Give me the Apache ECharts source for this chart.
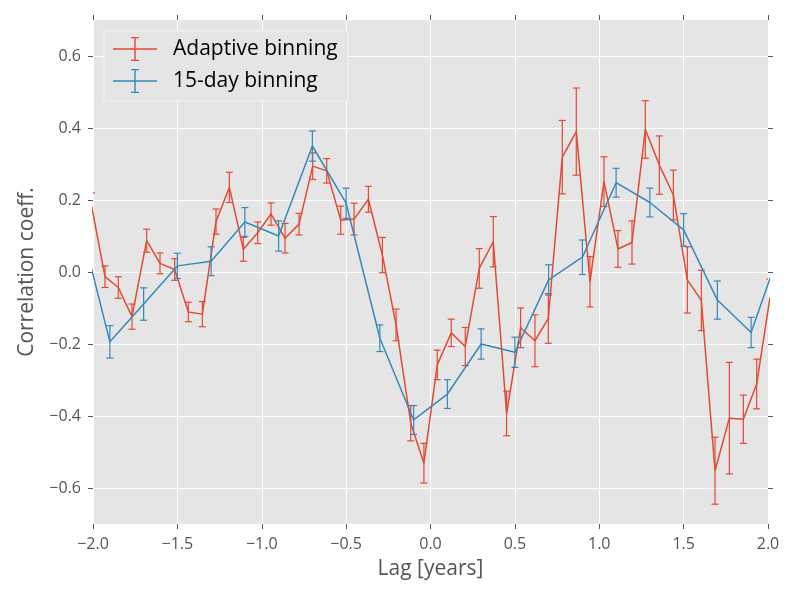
<!DOCTYPE html>
<html>
<head>
<meta charset="utf-8">
<script src="https://cdn.jsdelivr.net/npm/echarts@6/dist/echarts.min.js"></script>
<style>html,body{margin:0;padding:0;background:#fff}#c{width:800px;height:600px}</style>
</head>
<body>
<div id="c"></div>
<script>
// Adaptive binning (red)
var adaptiveX = [-2.009, -1.929, -1.85, -1.769, -1.682, -1.603, -1.516, -1.435, -1.352, -1.271,
  -1.192, -1.109, -1.024, -0.945, -0.862, -0.779, -0.698, -0.615, -0.532, -0.453,
  -0.368, -0.285, -0.204, -0.117, -0.039, 0.040, 0.123, 0.206, 0.289, 0.372,
  0.451, 0.534, 0.619, 0.698, 0.781, 0.864, 0.945, 1.028, 1.111, 1.194,
  1.273, 1.356, 1.439, 1.522, 1.605, 1.686, 1.771, 1.854, 1.933, 2.012];
var adaptiveY = [0.185, -0.013, -0.043, -0.124, 0.087, 0.024, 0.007, -0.111, -0.117, 0.140,
  0.235, 0.063, 0.109, 0.161, 0.094, 0.133, 0.294, 0.281, 0.144, 0.147,
  0.202, 0.047, -0.147, -0.420, -0.531, -0.258, -0.169, -0.207, 0.010, 0.084,
  -0.393, -0.155, -0.191, -0.129, 0.319, 0.390, -0.027, 0.251, 0.064, 0.082,
  0.396, 0.297, 0.214, -0.022, -0.079, -0.552, -0.406, -0.409, -0.311, -0.07];
var adaptiveErr = [0.035, 0.03, 0.03, 0.035, 0.032, 0.029, 0.03, 0.027, 0.035, 0.035,
  0.042, 0.033, 0.03, 0.031, 0.041, 0.03, 0.037, 0.034, 0.039, 0.044,
  0.036, 0.049, 0.044, 0.049, 0.055, 0.041, 0.038, 0.053, 0.055, 0.07,
  0.062, 0.055, 0.072, 0.069, 0.102, 0.121, 0.07, 0.069, 0.051, 0.06,
  0.08, 0.081, 0.069, 0.092, 0.084, 0.093, 0.155, 0.067, 0.069, 0.05];

// 15-day binning (blue)
var binX = [-2.1, -1.9, -1.7, -1.5, -1.3, -1.1, -0.9, -0.7, -0.5, -0.3, -0.1,
  0.1, 0.3, 0.5, 0.7, 0.9, 1.1, 1.3, 1.5, 1.7, 1.9, 2.1];
var binY = [0.18, -0.194, -0.089, 0.017, 0.030, 0.139, 0.100, 0.350, 0.191, -0.184, -0.411,
  -0.339, -0.200, -0.223, -0.022, 0.041, 0.248, 0.193, 0.117, -0.078, -0.168, 0.10];
var binErr = [0.04, 0.045, 0.045, 0.035, 0.04, 0.04, 0.042, 0.042, 0.042, 0.037, 0.04,
  0.04, 0.042, 0.042, 0.042, 0.048, 0.04, 0.04, 0.045, 0.053, 0.042, 0.04];

var xTicks = [-2.0, -1.5, -1.0, -0.5, 0.0, 0.5, 1.0, 1.5, 2.0];
var yTicks = [-0.6, -0.4, -0.2, 0.0, 0.2, 0.4, 0.6];
var seriesNames = ['Adaptive binning', '15-day binning'];

var RED = '#E24A33', BLUE = '#348ABD';
var FONT = 'Open Sans';

function pts(xs, ys) { return xs.map(function (x, i) { return [x, ys[i]]; }); }
function errPts(xs, ys, es) { return xs.map(function (x, i) { return [x, ys[i], es[i]]; }); }
function fmt(v) {
  var r = Math.round(v * 10);
  if (Math.abs(r) % 2 !== 0 && Math.abs(r) % 5 !== 0) return '';
  var s = Math.abs(v).toFixed(1);
  return (v < -1e-9 ? '\u2212' : '') + s;
}
function errRender(color) {
  return function (params, api) {
    var x = api.value(0), y = api.value(1), e = api.value(2);
    var t = api.coord([x, y + e]), b = api.coord([x, y - e]);
    var cw = 3.5;
    var st = { stroke: color, lineWidth: 1.2, fill: null };
    return {
      type: 'group', children: [
        { type: 'line', shape: { x1: t[0], y1: t[1], x2: b[0], y2: b[1] }, style: st },
        { type: 'line', shape: { x1: t[0] - cw, y1: t[1], x2: t[0] + cw, y2: t[1] }, style: st },
        { type: 'line', shape: { x1: b[0] - cw, y1: b[1], x2: b[0] + cw, y2: b[1] }, style: st }
      ]
    };
  };
}

var icon = 'path://M0,11.3L44,11.3L44,12.7L0,12.7Z M21.3,0L22.7,0L22.7,24L21.3,24Z M18,0L26,0L26,1.2L18,1.2Z M18,22.8L26,22.8L26,24L18,24Z';

var tickStyle = { color: '#555555', width: 1 };

var chart = echarts.init(document.getElementById('c'), null, { renderer: 'canvas' });
chart.setOption({
  animation: false,
  backgroundColor: '#ffffff',
  grid: { left: 93, right: 32, top: 20, bottom: 76, show: true, backgroundColor: '#E5E5E5', borderWidth: 0 },
  legend: {
    orient: 'vertical', left: 104, top: 31,
    padding: [6, 10, 8, 9],
    itemWidth: 44, itemHeight: 24, itemGap: 8,
    backgroundColor: '#E5E5E5', borderColor: '#f4f4f4', borderWidth: 1,
    textStyle: { fontFamily: FONT, fontSize: 21, color: '#000000', padding: [0, 0, 0, 11] },
    data: [
      { name: seriesNames[0], icon: icon, itemStyle: { color: RED } },
      { name: seriesNames[1], icon: icon, itemStyle: { color: BLUE } }
    ]
  },
  xAxis: [{
    type: 'value', min: -2, max: 2, interval: 0.5,
    name: 'Lag [years]', nameLocation: 'middle', nameGap: 35,
    nameTextStyle: { fontFamily: FONT, fontSize: 21, color: '#555555' },
    axisLine: { show: false, onZero: false },
    axisTick: { show: true, inside: false, length: 5, lineStyle: tickStyle },
    axisLabel: { fontFamily: FONT, fontSize: 16, color: '#555555', margin: 12, formatter: fmt },
    splitLine: { show: true, lineStyle: { color: '#ffffff', width: 1 } }
  }, {
    type: 'value', min: -2, max: 2, interval: 0.5, position: 'top',
    axisLine: { show: false, onZero: false },
    axisTick: { show: true, inside: false, length: 5, lineStyle: tickStyle },
    axisLabel: { show: false },
    splitLine: { show: false }
  }],
  yAxis: [{
    type: 'value', min: -0.7, max: 0.7, interval: 0.1,
    name: 'Correlation coeff.', nameLocation: 'middle', nameGap: 55,
    nameTextStyle: { fontFamily: FONT, fontSize: 21, color: '#555555' },
    axisLine: { show: false, onZero: false },
    axisTick: { show: true, inside: false, length: 5, lineStyle: tickStyle, customValues: yTicks },
    axisLabel: { fontFamily: FONT, fontSize: 16, color: '#555555', margin: 12, customValues: yTicks, formatter: fmt },
    splitLine: { show: true, lineStyle: { color: '#ffffff', width: 1 } }
  }, {
    type: 'value', min: -0.7, max: 0.7, interval: 0.1, position: 'right',
    axisLine: { show: false, onZero: false },
    axisTick: { show: true, inside: false, length: 5, lineStyle: tickStyle, customValues: yTicks },
    axisLabel: { show: false, customValues: yTicks },
    splitLine: { show: false }
  }],
  series: [
    {
      name: seriesNames[0], type: 'custom', xAxisIndex: 0, yAxisIndex: 0, clip: true,
      itemStyle: { color: RED }, encode: { x: 0, y: 1 },
      renderItem: errRender(RED), data: errPts(adaptiveX, adaptiveY, adaptiveErr), z: 2
    },
    {
      name: seriesNames[0], type: 'line', xAxisIndex: 0, yAxisIndex: 0,
      data: pts(adaptiveX, adaptiveY), showSymbol: false, symbol: 'none', clip: true,
      lineStyle: { color: RED, width: 1.5 }, itemStyle: { color: RED }, z: 3
    },
    {
      name: seriesNames[1], type: 'custom', xAxisIndex: 0, yAxisIndex: 0, clip: true,
      itemStyle: { color: BLUE }, encode: { x: 0, y: 1 },
      renderItem: errRender(BLUE), data: errPts(binX, binY, binErr), z: 4
    },
    {
      name: seriesNames[1], type: 'line', xAxisIndex: 0, yAxisIndex: 0,
      data: pts(binX, binY), showSymbol: false, symbol: 'none', clip: true,
      lineStyle: { color: BLUE, width: 1.5 }, itemStyle: { color: BLUE }, z: 5
    }
  ]
});
</script>
</body>
</html>
